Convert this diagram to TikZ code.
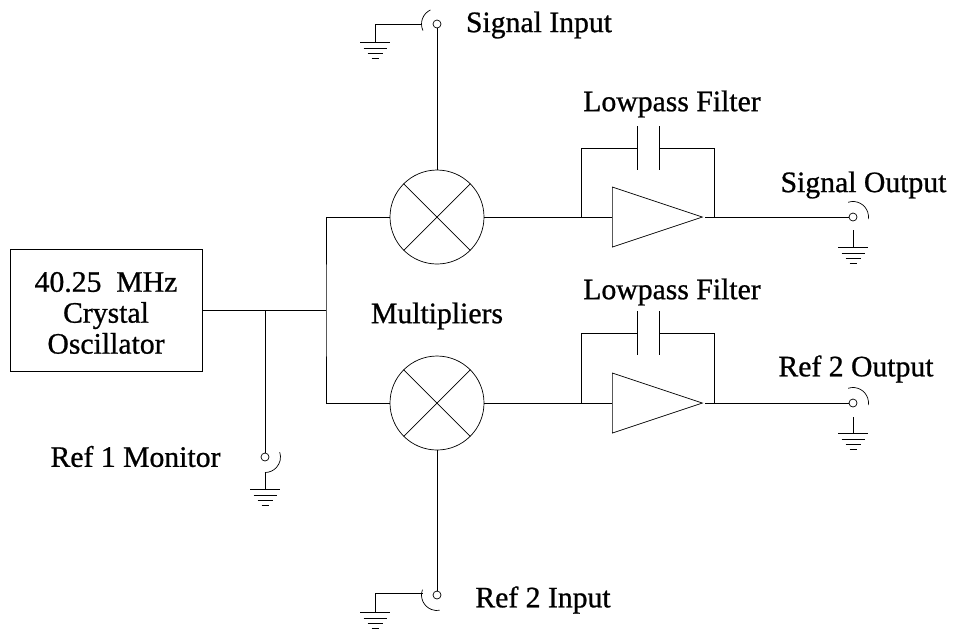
\documentclass[tikz,border=0pt]{standalone}
\usepackage{fontspec}
\newfontfamily\labelfont{Liberation Serif}[FakeBold=0.8]
\usetikzlibrary{positioning, shapes.geometric}
\tikzset{
line width=0.7pt,
every node/.style={font=\labelfont\fontsize{16.9}{17.6}\selectfont}, % all labels have the same size
block/.style={draw, minimum width=3.84cm, minimum height=2.44cm, align=center, inner sep=0pt},
mixer/.style={draw, circle, minimum size=1.88cm, inner sep=0pt},
amp/.style={draw, isosceles triangle, isosceles triangle stretches, minimum width=1.2cm, minimum height=1.8cm, inner sep=0pt, anchor=west},
jack/.style={draw, circle, minimum size=0.16cm, inner sep=0pt},
ground/.pic={
    \draw (-0.30,0) -- (0.30,0);
    \draw (-0.23,-0.12) -- (0.23,-0.12);
    \draw (-0.15,-0.22) -- (0.15,-0.22);
    \draw (-0.07,-0.33) -- (0.07,-0.33);
},
}
\begin{document}
\begin{tikzpicture}
    \useasboundingbox (0,0) rectangle (19.06,-12.6);
    % oscillator and the two multipliers
    \node[block] (osc) at (2.12,-6.21) {\rule{0pt}{14pt}40.25~~MHz\hspace{0.04cm}\\Crystal\\Oscillator\hspace{0.14cm}};
    \node[mixer, on grid, above right=1.87cm and 6.62cm of osc] (mix1) {};
    \node[mixer, on grid, below right=1.85cm and 6.62cm of osc] (mix2) {};
    \foreach \m in {mix1, mix2} {
        \draw (\m.45) -- (\m.225);
        \draw (\m.135) -- (\m.315);
    }
    % filters
    \node[amp] (amp1) at (12.24,0 |- mix1) {};
    \node[amp] (amp2) at (12.24,0 |- mix2) {};
    % jacks
    \node[jack, on grid, above=3.86cm of mix1] (jsig) {};
    \node[jack, on grid, below=3.84cm of mix2] (jref) {};
    \node[jack, on grid, right=8.32cm of mix1] (jout1) {};
    \node[jack, on grid, right=8.32cm of mix2] (jout2) {};
    \node[jack] (jmon) at (5.30,-9.14) {};
    % joints
    \coordinate (tap) at (osc.east -| jmon);
    \coordinate (bus) at (6.52,0 |- osc.east);
    \coordinate (in1) at (11.62,0 |- mix1);
    \coordinate (in2) at (11.62,0 |- mix2);
    \coordinate (out1) at (14.28,0 |- mix1);
    \coordinate (out2) at (14.28,0 |- mix2);
    \coordinate (top1) at (0,-2.96);
    \coordinate (top2) at (0,-6.66);
    % wiring
    \draw (osc.east) -- (bus);
    \draw (tap) -- (jmon);
    \draw (mix1.west) -| (bus) |- (mix2.west);
    \draw (jsig) -- (mix1);
    \draw (jref) -- (mix2);
    \draw (mix1.east) -- (amp1.west);
    \draw (mix2.east) -- (amp2.west);
    \draw (amp1.apex) ++(0.04,0) -- (jout1);
    \draw (amp2.apex) ++(0.04,0) -- (jout2);
    % feedback capacitors
    \foreach \n/\t in {1/top1, 2/top2} {
        \draw (in\n) |- (12.75,0 |- \t) coordinate (pa\n) -- ++(0,-0.44);
        \draw (out\n) |- (13.18,0 |- \t) coordinate (pb\n) -- ++(0,-0.44);
        \draw (pa\n) -- ++(0,0.44);
        \draw (pb\n) -- ++(0,0.44);
    }
    % arcs round the jacks, wires to ground
    \draw (jsig) ++(115:0.31) arc (115:205:0.31);
    \draw (jref) ++(160:0.31) arc (160:280:0.31);
    \draw (jout1) ++(108:0.31) arc (108:-8:0.31);
    \draw (jout2) ++(108:0.31) arc (108:-8:0.31);
    \draw (jmon) ++(18:0.31) arc (18:-90:0.31) coordinate (amon);
    \coordinate (asig) at ([xshift=-0.30cm]jsig.center);
    \coordinate (aref) at ([xshift=-0.29cm,yshift=0.04cm]jref.center);
    \coordinate (gsig) at (7.5,-0.84);
    \coordinate (gref) at (7.5,-12.24);
    \coordinate (gout1) at (jout1 |- 0,-4.94);
    \coordinate (gout2) at (jout2 |- 0,-8.66);
    \coordinate (gmon) at (jmon |- 0,-9.78);
    \draw (asig) -| (gsig);
    \draw (aref) -| (gref);
    \draw ([yshift=-0.26cm]jout1.center) -- (gout1);
    \draw ([yshift=-0.28cm]jout2.center) -- (gout2);
    \draw (amon) -- (gmon);
    \foreach \g in {gsig, gref, gout1, gout2, gmon} {
        \pic at (\g) {ground};
    }
    % labels
    \node (tsig) at (10.78,-0.50) {Signal Input};
    \node (tlp1) at (13.44,-2.08) {Lowpass Filter};
    \node (tout1) at (17.27,-3.70) {Signal Output};
    \node (tmul) at (8.74,-6.32) {Multipliers};
    \node (tlp2) at (13.44,-5.84) {Lowpass Filter};
    \node (tout2) at (17.12,-7.38) {Ref 2 Output};
    \node (tmon) at (2.71,-9.13) {Ref 1 Monitor};
    \node (tref) at (10.86,-12.00) {Ref 2 Input};
\end{tikzpicture}
\end{document}
